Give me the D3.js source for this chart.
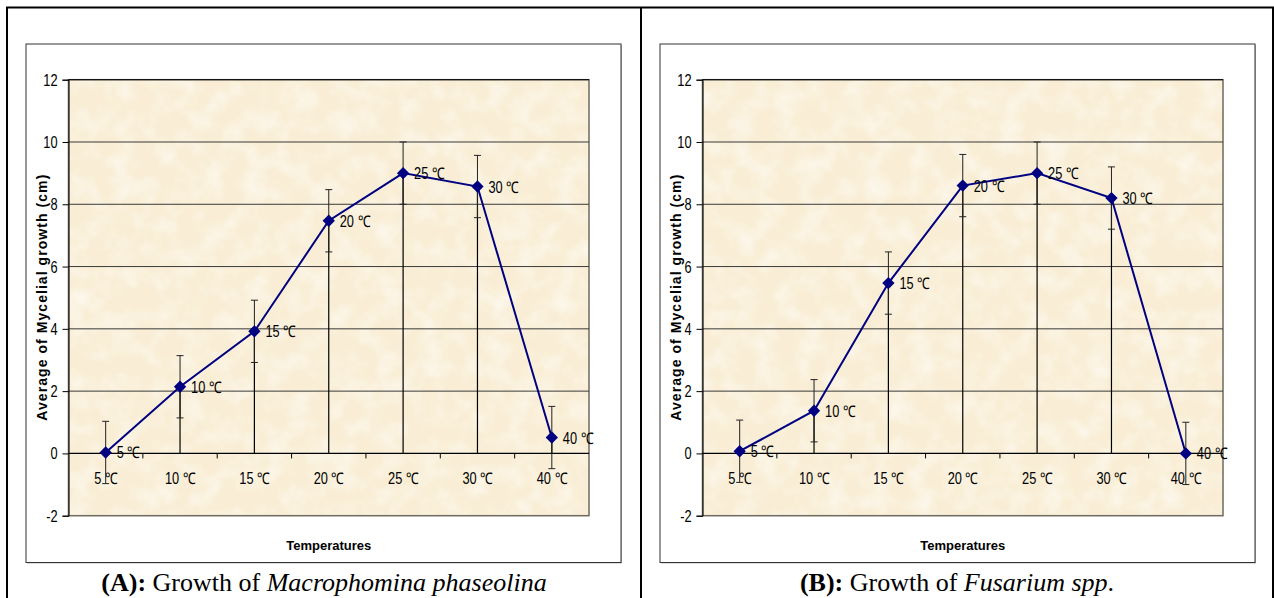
<!DOCTYPE html>
<html>
<head>
<meta charset="utf-8">
<script src="https://cdn.jsdelivr.net/npm/d3@7"></script>
<style>
  body { margin: 0; background: #fff; }
  svg { display: block; }
</style>
</head>
<body>
<svg id="chart" width="1274" height="598"></svg>
<script>
// chart values
const temps = ["5 ℃", "10 ℃", "15 ℃", "20 ℃", "25 ℃", "30 ℃", "40 ℃"];
const growthA = [0.03, 2.14, 3.92, 7.47, 9.0, 8.57, 0.51];
const growthB = [0.07, 1.37, 5.47, 8.6, 9.0, 8.2, 0.0];
const errA = [1, 1, 1, 1, 1, 1, 1];
const errB = [1, 1, 1, 1, 1, 1, 1];
const yTicks = [-2, 0, 2, 4, 6, 8, 10, 12];

const panels = [
  { left: 7, right: 641, values: growthA, errors: errA, tag: "(A):", genus: "Macrophomina phaseolina" },
  { left: 641, right: 1273, values: growthB, errors: errB, tag: "(B):", genus: "Fusarium spp" , dot: "." }
];

const svg = d3.select("#chart");
const narrow = 0.8; // Excel text looks horizontally squeezed

// parchment texture for the plot area
const defs = svg.append("defs");
const f = defs.append("filter").attr("id", "paper").attr("x", 0).attr("y", 0).attr("width", "100%").attr("height", "100%");
f.append("feTurbulence").attr("type", "fractalNoise").attr("baseFrequency", 0.045).attr("numOctaves", 3).attr("seed", 7);
f.append("feColorMatrix").attr("type", "matrix")
  .attr("values", "0 0 0 0 1  0 0 0 0 1  0 0 0 0 1  1.1 0 0 0 -0.45");
f.append("feComposite").attr("in2", "SourceGraphic").attr("operator", "in");

// outer table frame
svg.append("rect").attr("x", 7).attr("y", 7.5).attr("width", 1266).attr("height", 600)
  .attr("fill", "none").attr("stroke", "#000").attr("stroke-width", 2);
svg.append("line").attr("x1", 641).attr("x2", 641).attr("y1", 7).attr("y2", 598)
  .attr("stroke", "#000").attr("stroke-width", 2);

const y = d3.scaleLinear().domain([-2, 12]).range([515.7, 79.7]);

function squeezed(g, x, yy, txt, anchor) {
  return g.append("text")
    .attr("transform", `translate(${x},${yy}) scale(${narrow},1)`)
    .attr("text-anchor", anchor || "start")
    .attr("font-family", "Liberation Sans, Arial, sans-serif")
    .attr("font-size", 16)
    .attr("fill", "#000")
    .text(txt);
}

panels.forEach(p => {
  const g = svg.append("g");
  const boxL = p.left + 19, plotL = p.left + 61.5, plotR = plotL + 520.5;
  const boxR = plotR + 32;

  // chart area box
  g.append("rect").attr("x", boxL + 1).attr("y", 45).attr("width", boxR - boxL).attr("height", 518.5)
    .attr("fill", "#bbb");
  g.append("rect").attr("x", boxL).attr("y", 44).attr("width", boxR - boxL).attr("height", 518.5)
    .attr("fill", "#fff").attr("stroke", "#333").attr("stroke-width", 1);

  const x = d3.scaleBand().domain(temps).range([plotL, plotR]);
  const cx = d => x(d) + x.bandwidth() / 2;

  // plot area
  g.append("rect").attr("x", plotL).attr("y", y(12)).attr("width", plotR - plotL).attr("height", y(-2) - y(12))
    .attr("fill", "#f9eed5");
  g.append("rect").attr("x", plotL).attr("y", y(12)).attr("width", plotR - plotL).attr("height", y(-2) - y(12))
    .attr("fill", "#fffaf0").attr("filter", "url(#paper)");
  g.append("rect").attr("x", plotL).attr("y", y(12)).attr("width", plotR - plotL).attr("height", y(-2) - y(12))
    .attr("fill", "none").attr("stroke", "#6e6a60").attr("stroke-width", 1.5);

  // gridlines
  g.selectAll(".grid").data(yTicks.filter(t => t > 0)).enter().append("line")
    .attr("x1", plotL).attr("x2", plotR).attr("y1", d => y(d)).attr("y2", d => y(d))
    .attr("stroke", d => d === 12 ? "#000" : "#3a3a3a").attr("stroke-width", 1);

  // y axis
  const yAxis = d3.axisLeft(y).tickValues(yTicks).tickSize(6).tickFormat("");
  const ya = g.append("g").attr("transform", `translate(${plotL},0)`).call(yAxis);
  ya.selectAll("path, line").attr("stroke", "#000");
  yTicks.forEach(t => squeezed(g, plotL - 11, y(t) + 6, String(t), "end"));

  // x axis at zero with ticks at band edges
  g.append("line").attr("x1", plotL).attr("x2", plotR).attr("y1", y(0)).attr("y2", y(0))
    .attr("stroke", "#000").attr("stroke-width", 1.3);
  g.selectAll(".xt").data(temps.slice(1)).enter().append("line")
    .attr("x1", d => x(d)).attr("x2", d => x(d)).attr("y1", y(0)).attr("y2", y(0) + 5)
    .attr("stroke", "#000");
  temps.forEach(t => squeezed(g, cx(t), y(0) + 31, t, "middle"));

  const pts = temps.map((t, i) => ({ t, v: p.values[i], e: p.errors[i] }));

  // drop lines
  g.selectAll(".drop").data(pts).enter().append("line")
    .attr("x1", d => cx(d.t)).attr("x2", d => cx(d.t))
    .attr("y1", d => y(d.v)).attr("y2", y(0))
    .attr("stroke", "#000").attr("stroke-width", 1.2);

  // error bars
  const eb = g.selectAll(".err").data(pts).enter().append("g").attr("stroke", "#222").attr("stroke-width", 1);
  eb.append("line").attr("x1", d => cx(d.t)).attr("x2", d => cx(d.t))
    .attr("y1", d => y(d.v + d.e)).attr("y2", d => y(d.v - d.e));
  eb.append("line").attr("x1", d => cx(d.t) - 3.5).attr("x2", d => cx(d.t) + 3.5)
    .attr("y1", d => y(d.v + d.e)).attr("y2", d => y(d.v + d.e));
  eb.append("line").attr("x1", d => cx(d.t) - 3.5).attr("x2", d => cx(d.t) + 3.5)
    .attr("y1", d => y(d.v - d.e)).attr("y2", d => y(d.v - d.e));

  // series line + diamond markers
  const line = d3.line().x(d => cx(d.t)).y(d => y(d.v));
  g.append("path").datum(pts).attr("d", line)
    .attr("fill", "none").attr("stroke", "#000080").attr("stroke-width", 2);
  const diamond = d3.symbol().type(d3.symbolSquare).size(76);
  g.selectAll(".mk").data(pts).enter().append("path")
    .attr("d", diamond)
    .attr("transform", d => `translate(${cx(d.t)},${y(d.v)}) rotate(45)`)
    .attr("fill", "#000080");

  // data labels
  pts.forEach(d => squeezed(g, cx(d.t) + 11, y(d.v) + 6, d.t));

  // axis titles
  g.append("text").attr("x", (plotL + plotR) / 2).attr("y", 550)
    .attr("text-anchor", "middle").attr("font-family", "Liberation Sans, Arial, sans-serif")
    .attr("font-weight", "bold").attr("font-size", 13).text("Temperatures");
  g.append("text")
    .attr("transform", `translate(${p.left + 35},${(y(12) + y(-2)) / 2}) rotate(-90)`)
    .attr("text-anchor", "middle").attr("dy", "0.35em")
    .attr("font-family", "Liberation Sans, Arial, sans-serif")
    .attr("font-weight", "bold").attr("font-size", 14)
    .attr("textLength", 246).attr("lengthAdjust", "spacing")
    .text("Average of Mycelial growth (cm)");

  // caption under the chart
  const cap = g.append("text").attr("x", (p.left + p.right) / 2).attr("y", 591)
    .attr("text-anchor", "middle").attr("font-family", "Liberation Serif, 'Times New Roman', serif")
    .attr("font-size", 26);
  cap.append("tspan").attr("font-weight", "bold").text(p.tag);
  cap.append("tspan").text(" Growth of ");
  cap.append("tspan").attr("font-style", "italic").text(p.genus);
  if (p.dot) cap.append("tspan").text(p.dot);
});
</script>
</body>
</html>
